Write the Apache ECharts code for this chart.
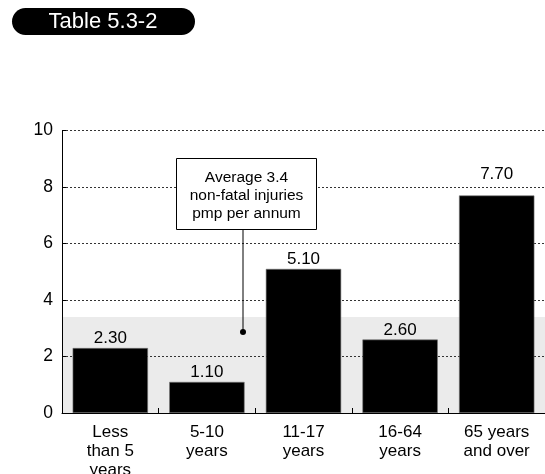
<!DOCTYPE html>
<html>
<head>
<meta charset="utf-8">
<script src="https://cdn.jsdelivr.net/npm/echarts@6/dist/echarts.min.js"></script>
<style>
  html, body { margin: 0; padding: 0; background: #fff; }
  #chart { width: 545px; height: 474px; }
</style>
</head>
<body>
<div id="chart"></div>
<script>
// Age groups and non-fatal injury rates (pmp per annum)
const categories = ['Less\nthan 5\nyears', '5-10\nyears', '11-17\nyears', '16-64\nyears', '65 years\nand over'];
const rates = [2.30, 1.10, 5.10, 2.60, 7.70];
const averageRate = 3.4;
const yTicks = [0, 2, 4, 6, 8, 10];
const titleText = 'Table 5.3-2';
const noteLines = ['Average 3.4', 'non-fatal injuries', 'pmp per annum'];

const FONT = '"Liberation Sans", Arial, Helvetica, sans-serif';
const chart = echarts.init(document.getElementById('chart'), null, { renderer: 'canvas' });

// lift a value label clear of a grid line when the bar top sits just under one
const barData = rates.map(v => {
  const gap = Math.ceil(v / 2) * 2 - v;
  return gap > 0 && gap < 0.5 ? { value: v, label: { distance: 13 } } : v;
});

chart.setOption({
  animation: false,
  textStyle: { fontFamily: FONT },
  grid: { left: 62, right: 0, top: 130.5, bottom: 61, containLabel: false, outerBoundsMode: 'none' },
  xAxis: {
    type: 'category',
    data: categories,
    z: 4,
    axisLine: { lineStyle: { color: '#000', width: 1 } },
    axisTick: { show: true, inside: true, length: 5, lineStyle: { color: '#000' } },
    axisLabel: { color: '#000', fontSize: 17, lineHeight: 19, margin: 10, fontFamily: FONT }
  },
  yAxis: {
    type: 'value',
    min: yTicks[0],
    max: yTicks[yTicks.length - 1],
    interval: 2,
    z: 2,
    axisLine: { show: true, lineStyle: { color: '#000', width: 1 } },
    axisTick: { show: true, inside: true, length: 4, lineStyle: { color: '#000' } },
    axisLabel: { color: '#000', fontSize: 17.5, margin: 9, fontFamily: FONT },
    splitLine: { show: true, lineStyle: { color: '#333', type: [2, 2], width: 1 } }
  },
  series: [
    {
      // shaded band up to the average rate, beneath the grid lines
      type: 'line',
      data: [],
      z: 1,
      silent: true,
      markArea: {
        silent: true,
        itemStyle: { color: '#ebebeb' },
        data: [[{ yAxis: 0 }, { yAxis: averageRate }]]
      }
    },
    {
      type: 'bar',
      data: barData,
      z: 3,
      barCategoryGap: '22%',
      itemStyle: { color: '#000', borderColor: '#777', borderWidth: 0.6 },
      label: {
        show: true,
        position: 'top',
        distance: 1,
        color: '#000',
        fontSize: 17,
        fontFamily: FONT,
        formatter: p => p.value.toFixed(2)
      }
    }
  ],
  graphic: [
    {
      type: 'rect', z: 100,
      shape: { x: 12, y: 8, width: 183, height: 27, r: 13.5 },
      style: { fill: '#000' }
    },
    {
      type: 'text', z: 101,
      x: 103, y: 22,
      style: {
        text: titleText, fill: '#fff', font: '22px ' + FONT,
        align: 'center', verticalAlign: 'middle'
      }
    },
    {
      type: 'line', z: 100,
      shape: { x1: 243, y1: 230, x2: 243, y2: 332 },
      style: { stroke: '#000', lineWidth: 1 }
    },
    {
      type: 'circle', z: 100,
      shape: { cx: 243, cy: 332, r: 3 },
      style: { fill: '#000' }
    },
    {
      type: 'rect', z: 100,
      shape: { x: 176.5, y: 158.5, width: 140, height: 71 },
      style: { fill: '#fff', stroke: '#000', lineWidth: 1 }
    },
    {
      type: 'text', z: 101,
      x: 246.5, y: 196,
      style: {
        text: noteLines.join('\n'), fill: '#000', font: '15.5px ' + FONT,
        lineHeight: 18, align: 'center', verticalAlign: 'middle'
      }
    }
  ]
});
</script>
</body>
</html>
